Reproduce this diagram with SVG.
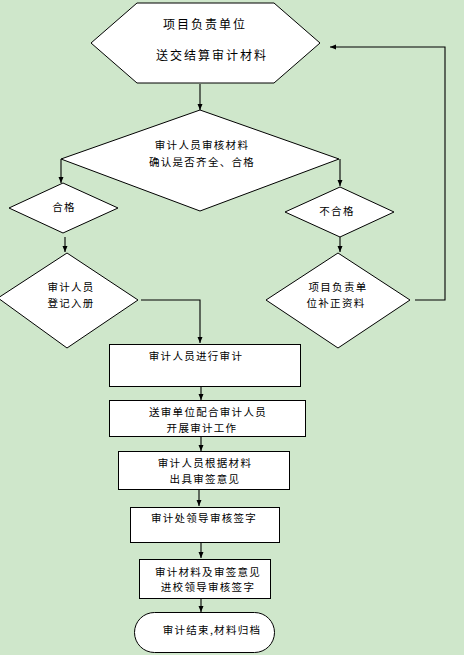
<svg xmlns="http://www.w3.org/2000/svg" width="464" height="655" viewBox="0 0 464 655">
<defs>
<marker id="ah" markerWidth="7" markerHeight="6" refX="6" refY="3" orient="auto" markerUnits="userSpaceOnUse">
<path d="M0,0.5 L6,3 L0,5.5 Z" fill="#000"/>
</marker>
<style>
.n{fill:#fff;stroke:#000;stroke-width:1}
.t{font-family:"Noto Sans CJK SC","Liberation Sans",sans-serif;font-size:10.5px;letter-spacing:1.3px;fill:#000;text-anchor:middle}
.tb{font-size:12px;letter-spacing:2px}
.c{fill:none;stroke:#000;stroke-width:1.1;marker-end:url(#ah)}
</style>
</defs>
<rect x="0" y="0" width="464" height="655" fill="#cfe7cb"/>
<g id="connectors">
<path class="c" d="M200,84 V110"/>
<path class="c" d="M61,159 V183"/>
<path class="c" d="M340,159 V186"/>
<path class="c" d="M65,237 V252"/>
<path class="c" d="M340,237 V252"/>
<path class="c" d="M141,300 H200 V343"/>
<path class="c" d="M415,300 H445 V47 H330"/>
<path class="c" d="M201,387 V400"/>
<path class="c" d="M201,437 V451"/>
<path class="c" d="M199,490 V506"/>
<path class="c" d="M201,543 V558"/>
<path class="c" d="M201,599 V612"/>
</g>
<g id="n1">
<polygon class="n" points="91,43 137,3 274,3 320,43 274,83 137,83"/>
<text class="t tb" x="205" y="29">项目负责单位</text>
<text class="t tb" x="212" y="60">送交结算审计材料</text>
</g>
<g id="n2">
<polygon class="n" points="200,110 339,159 200,211 61,159"/>
<text class="t" x="202" y="149">审计人员审核材料</text>
<text class="t" x="202" y="166">确认是否齐全、合格</text>
</g>
<g id="n3">
<polygon class="n" points="63,183 118,208 63,233 9,208"/>
<text class="t" x="64" y="211">合格</text>
</g>
<g id="n4">
<polygon class="n" points="340,187 394,212 340,237 285,212"/>
<text class="t" x="337" y="215">不合格</text>
</g>
<g id="n5">
<polygon class="n" points="67,253 138,300 67,348 -2,298"/>
<text class="t" x="71" y="291">审计人员</text>
<text class="t" x="71" y="307">登记入册</text>
</g>
<g id="n6">
<polygon class="n" points="338,253 410,300 338,348 266,300"/>
<text class="t" x="338" y="291">项目负责单</text>
<text class="t" x="336" y="307">位补正资料</text>
</g>
<g id="n7">
<rect class="n" x="109.5" y="344.5" width="191" height="42"/>
<text class="t" x="196" y="360">审计人员进行审计</text>
</g>
<g id="n8">
<rect class="n" x="109.5" y="400.5" width="196" height="36"/>
<text class="t" x="208" y="416">送审单位配合审计人员</text>
<text class="t" x="202" y="432">开展审计工作</text>
</g>
<g id="n9">
<rect class="n" x="118.5" y="451.5" width="171" height="38"/>
<text class="t" x="205" y="467">审计人员根据材料</text>
<text class="t" x="205" y="483">出具审签意见</text>
</g>
<g id="n10">
<rect class="n" x="130.5" y="507.5" width="149" height="35"/>
<text class="t" x="204" y="522">审计处领导审核签字</text>
</g>
<g id="n11">
<rect class="n" x="139.5" y="559.5" width="131" height="39"/>
<text class="t" x="208" y="576">审计材料及审签意见</text>
<text class="t" x="208" y="591">进校领导审核签字</text>
</g>
<g id="n12">
<rect class="n" x="134.5" y="612.5" width="140" height="40" rx="20" ry="20"/>
<text class="t" x="212" y="634">审计结束,材料归档</text>
</g>
</svg>
